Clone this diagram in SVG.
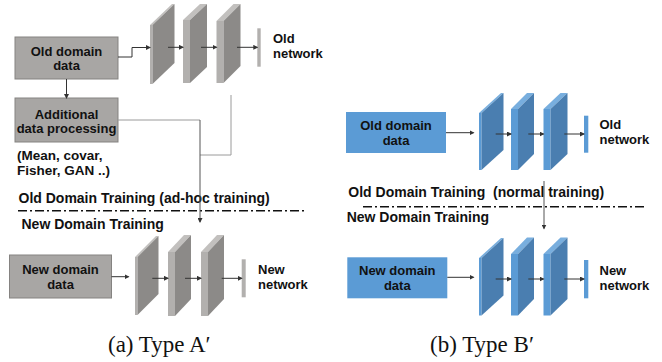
<svg xmlns="http://www.w3.org/2000/svg" width="662" height="362" viewBox="0 0 662 362">
<style>
.t{font-family:"Liberation Sans",Arial,sans-serif;font-weight:bold;font-size:13px;fill:#111}
.h{font-size:14px}
.cap{font-family:"Liberation Serif","Times New Roman",serif;font-size:23px;fill:#111}
.gbox{fill:#a8a6a4;stroke:#858381;stroke-width:1}
.bbox{fill:#5b9bd5}
.gf{fill:#b2b0ae}.gt{fill:#c2c0be}.gs{fill:#8c8a88}
.bf{fill:#5b9bd5}.bt{fill:#78aede}.bs{fill:#4a7eb0}
.gout{fill:#b2b0ae}.bout{fill:#5b9bd5}
.ar{fill:none;stroke:#333;stroke-width:1;marker-end:url(#ah)}
.gl{fill:none;stroke:#9a9a9a;stroke-width:1}
.dd{stroke:#111;stroke-width:1.6;stroke-dasharray:9 3 2 3}
</style>
<defs>
<marker id="ah" markerWidth="5" markerHeight="5" refX="4" refY="2.5" orient="auto" markerUnits="userSpaceOnUse">
<path d="M0,0 L5,2.5 L0,5 z" fill="#333"/>
</marker>
</defs>

<!-- (a) Type A' -->
<g id="a-old-data">
<rect class="gbox" x="15" y="37" width="103" height="42"/>
<text class="t" x="66.5" y="56" text-anchor="middle">Old domain</text>
<text class="t" x="66.5" y="70" text-anchor="middle">data</text>
</g>
<g id="a-additional">
<rect class="gbox" x="15" y="98" width="103" height="44"/>
<text class="t" x="66.5" y="119" text-anchor="middle">Additional</text>
<text class="t" x="66.5" y="133" text-anchor="middle">data processing</text>
</g>
<g id="a-note">
<text class="t" x="17" y="160" style="font-size:13.5px">(Mean, covar,</text>
<text class="t" x="17" y="175" style="font-size:13.5px">Fisher, GAN ..)</text>
</g>
<g id="a-old-net">
<rect class="gf" x="150" y="25" width="2.5" height="59"/>
<polygon class="gt" points="150,25 152.5,25 174.5,4 172,4"/>
<polygon class="gs" points="152.5,25 174.5,4 174.5,63 152.5,84"/>
<rect class="gf" x="183" y="20" width="7" height="63"/>
<polygon class="gt" points="183,20 190,20 207,4 200,4"/>
<polygon class="gs" points="190,20 207,4 207,67 190,83"/>
<rect class="gf" x="216.5" y="21" width="7" height="62"/>
<polygon class="gt" points="216.5,21 223.5,21 240.5,4 233.5,4"/>
<polygon class="gs" points="223.5,21 240.5,4 240.5,66 223.5,83"/>
<rect class="gout" x="257.3" y="28.3" width="3.4" height="38.4"/>
<text class="t" x="273" y="43">Old</text>
<text class="t" x="273" y="58">network</text>
</g>
<g id="a-new-data">
<rect class="gbox" x="9.5" y="255" width="102" height="43"/>
<text class="t" x="60.5" y="274" text-anchor="middle">New domain</text>
<text class="t" x="60.5" y="289" text-anchor="middle">data</text>
</g>
<g id="a-new-net">
<rect class="gf" x="135" y="257" width="2.5" height="58"/>
<polygon class="gt" points="135,257 137.5,257 158.5,236 156,236"/>
<polygon class="gs" points="137.5,257 158.5,236 158.5,294 137.5,315"/>
<rect class="gf" x="168" y="252" width="7" height="64"/>
<polygon class="gt" points="168,252 175,252 191,235 184,235"/>
<polygon class="gs" points="175,252 191,235 191,299 175,316"/>
<rect class="gf" x="201" y="252" width="7" height="64"/>
<polygon class="gt" points="201,252 208,252 224,235 217,235"/>
<polygon class="gs" points="208,252 224,235 224,299 208,316"/>
<rect class="gout" x="241.7" y="259.3" width="4" height="38"/>
<text class="t" x="258" y="274">New</text>
<text class="t" x="258" y="289">network</text>
</g>
<g id="a-labels">
<text class="t h" x="18.5" y="203">Old Domain Training (ad-hoc training)</text>
<line class="dd" x1="18" y1="210.7" x2="307" y2="210.7"/>
<text class="t h" x="21.5" y="229">New Domain Training</text>
<text class="cap" x="108" y="352">(a) Type A′</text>
</g>

<!-- (b) Type B' -->
<g id="b-old-data">
<rect class="bbox" x="346" y="112" width="100" height="41"/>
<text class="t" x="396" y="130" text-anchor="middle">Old domain</text>
<text class="t" x="396" y="145" text-anchor="middle">data</text>
</g>
<g id="b-old-net">
<rect class="bf" x="479" y="113" width="2.5" height="57"/>
<polygon class="bt" points="479,113 481.5,113 503.5,93 501,93"/>
<polygon class="bs" points="481.5,113 503.5,93 503.5,150 481.5,170"/>
<rect class="bf" x="511" y="109" width="7" height="61"/>
<polygon class="bt" points="511,109 518,109 534,93 527,93"/>
<polygon class="bs" points="518,109 534,93 534,154 518,170"/>
<rect class="bf" x="543.5" y="109" width="7" height="61"/>
<polygon class="bt" points="543.5,109 550.5,109 567.5,93 560.5,93"/>
<polygon class="bs" points="550.5,109 567.5,93 567.5,154 550.5,170"/>
<rect class="bout" x="584" y="115.7" width="4.3" height="37"/>
<text class="t" x="599.5" y="129">Old</text>
<text class="t" x="599.5" y="144">network</text>
</g>
<g id="b-new-data">
<rect class="bbox" x="347.3" y="257.3" width="100" height="41"/>
<text class="t" x="397.3" y="275" text-anchor="middle">New domain</text>
<text class="t" x="397.3" y="290" text-anchor="middle">data</text>
</g>
<g id="b-new-net">
<rect class="bf" x="479" y="258" width="2.5" height="57.5"/>
<polygon class="bt" points="479,258 481.5,258 503.5,238 501,238"/>
<polygon class="bs" points="481.5,258 503.5,238 503.5,295.5 481.5,315.5"/>
<rect class="bf" x="511" y="254" width="7" height="61.5"/>
<polygon class="bt" points="511,254 518,254 534,237.5 527,237.5"/>
<polygon class="bs" points="518,254 534,237.5 534,299 518,315.5"/>
<rect class="bf" x="543.5" y="254" width="7" height="61.5"/>
<polygon class="bt" points="543.5,254 550.5,254 567.5,237.5 560.5,237.5"/>
<polygon class="bs" points="550.5,254 567.5,237.5 567.5,299 550.5,315.5"/>
<rect class="bout" x="584" y="260" width="4.3" height="38.3"/>
<text class="t" x="599.5" y="275">New</text>
<text class="t" x="599.5" y="290">network</text>
</g>
<g id="b-labels">
<text class="t h" x="348.3" y="197">Old Domain Training &#160;(normal training)</text>
<line class="dd" x1="363" y1="206.7" x2="646" y2="206.7"/>
<text class="t h" x="346.7" y="222">New Domain Training</text>
<text class="cap" x="430" y="352">(b) Type B′</text>
</g>

<g id="connectors">
<path class="ar" d="M118,57 H132 V47.5 H150"/>
<path class="ar" d="M66.5,79 V98"/>
<path class="ar" d="M168,47.3 H183"/>
<path class="ar" d="M201,47.3 H216.5"/>
<path class="ar" d="M237,47.3 H257.3"/>
<path class="gl" d="M118,120 H200"/>
<path class="gl" d="M231,95 V155 H200"/>
<path class="ar" d="M200,120 V222" style="stroke:#555"/>
<path class="ar" d="M111.5,276.7 H128.5"/>
<path class="ar" d="M152.3,278.3 H168"/>
<path class="ar" d="M185,278.3 H201"/>
<path class="ar" d="M221.7,278.3 H241.7"/>
<path class="ar" d="M446,132.7 H473.5"/>
<path class="ar" d="M495.7,134 H511"/>
<path class="ar" d="M528.3,134 H543.5"/>
<path class="ar" d="M564.3,134 H584"/>
<path class="ar" d="M544,181 V228.5" style="stroke:#555"/>
<path class="ar" d="M447.3,277.3 H473.5"/>
<path class="ar" d="M495.7,279 H511"/>
<path class="ar" d="M528.3,279 H543.5"/>
<path class="ar" d="M564.3,279 H584"/>
</g>
</svg>
